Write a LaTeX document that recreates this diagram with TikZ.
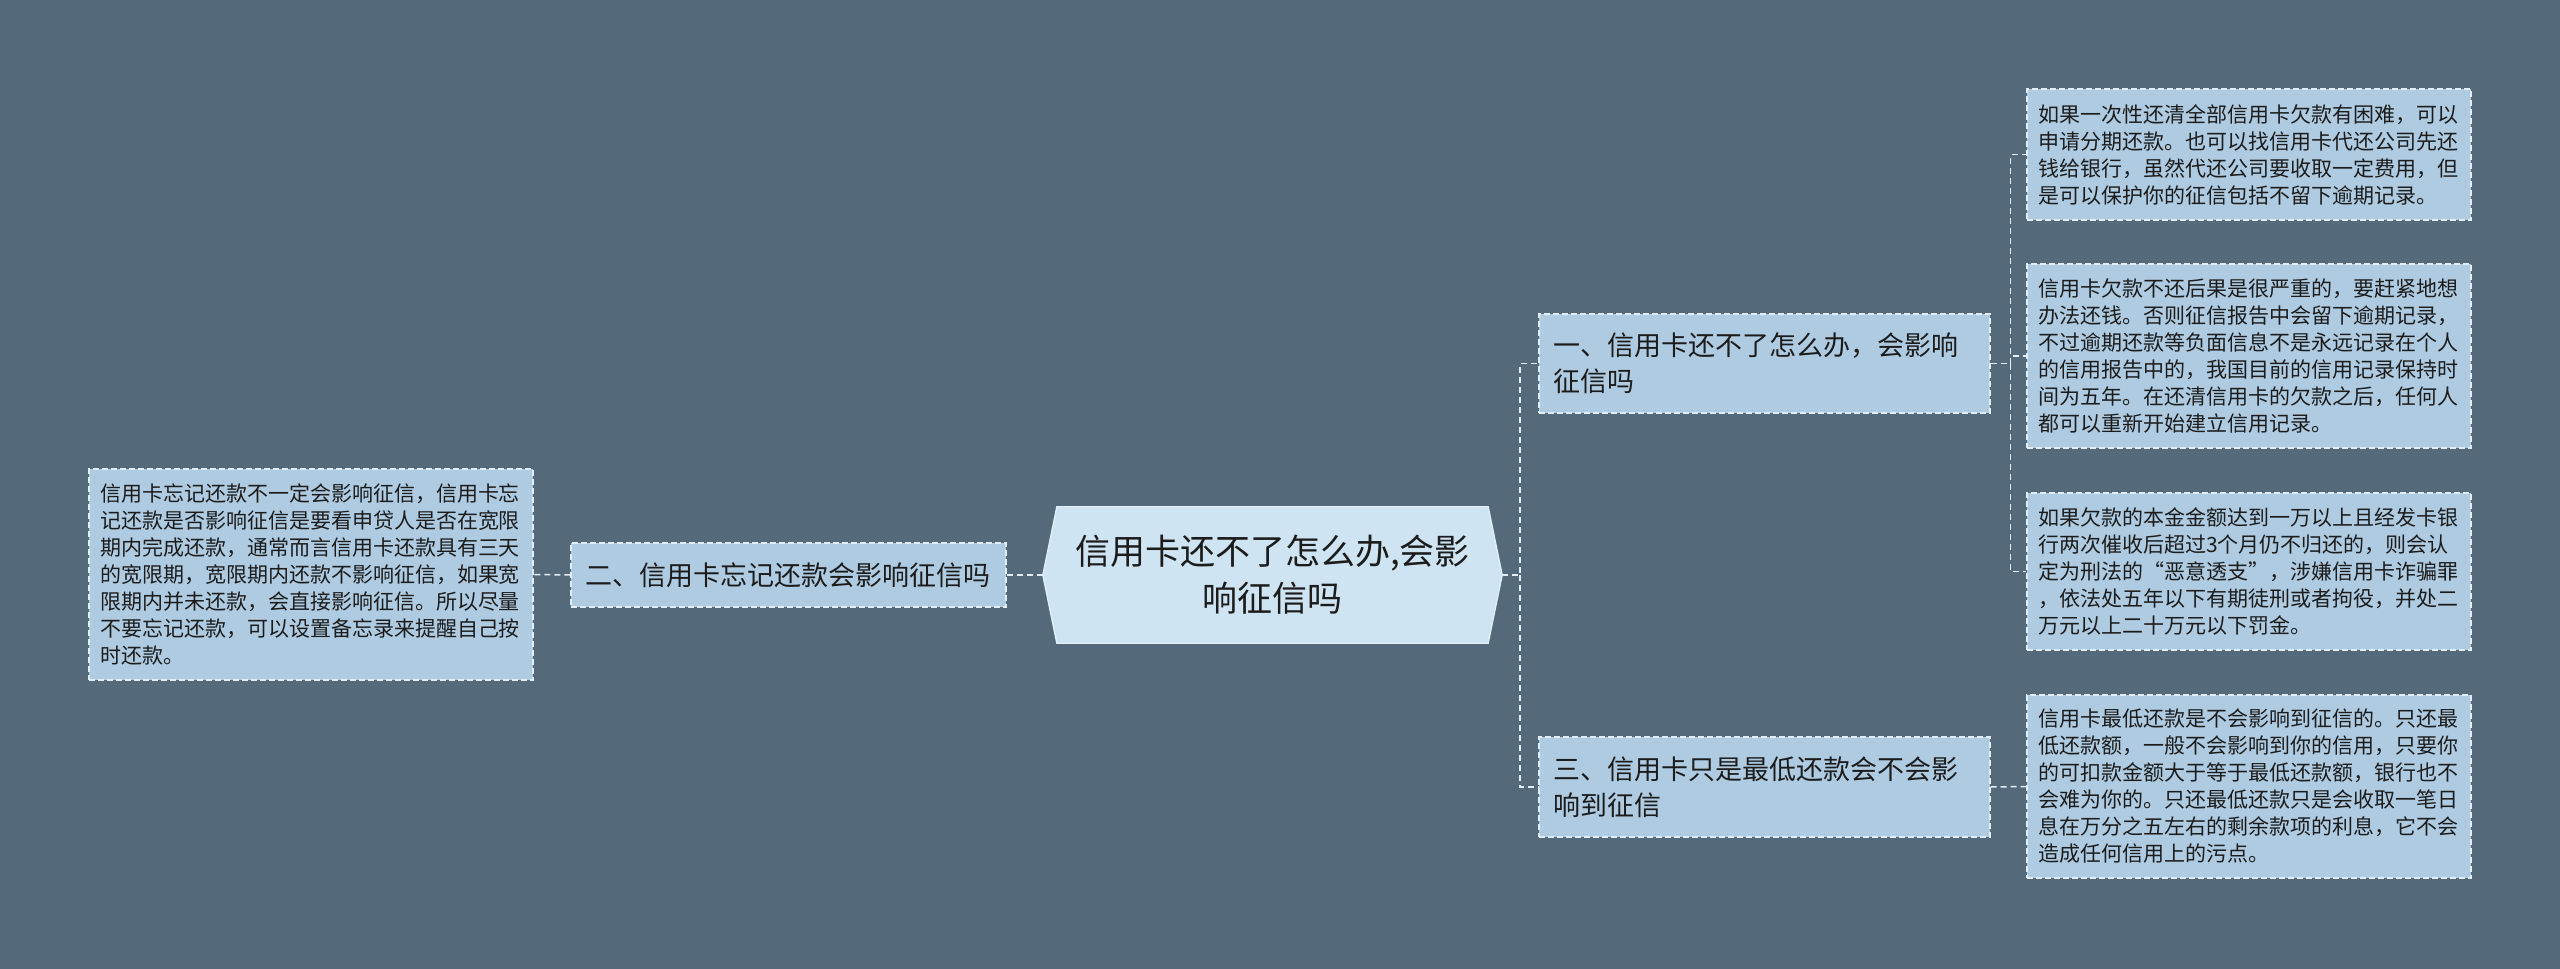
\documentclass[tikz,border=0pt]{standalone}
\usepackage{fontspec}
\setmainfont{Noto Sans CJK SC}
\usetikzlibrary{backgrounds,calc}
\definecolor{bgc}{RGB}{84,106,122}
\definecolor{leaf}{RGB}{174,203,225}
\definecolor{ctr}{RGB}{207,228,242}
\definecolor{edgec}{RGB}{226,238,247}
\definecolor{ink}{RGB}{28,28,28}
\begin{document}
\begin{tikzpicture}[x=1pt,y=-1pt,
  box/.style={draw=edgec, fill=leaf, dash pattern=on 6pt off 3pt, line width=1.3pt, text=ink, align=left, inner xsep=0pt, inner ysep=0pt, anchor=center},
  leafbox/.style={box, minimum width=444pt, text width=422pt, font=\fontsize{21}{27}\selectfont},
  midbox/.style={box, minimum width=451pt, text width=423pt, font=\fontsize{27}{36}\selectfont},
  link/.style={draw=edgec, dash pattern=on 6pt off 4pt, line width=1.5pt}]
\begin{scope}[on background layer]
\fill[bgc] (0,0) rectangle (2560,969);
\end{scope}
\useasboundingbox (0,0) rectangle (2560,969);

% center
\node[font=\fontsize{35}{47}\selectfont, align=center, minimum width=431pt, minimum height=136pt, inner sep=0pt, text=ink] (C) at (1272.5,575) {信用卡还不了怎么办,会影\\响征信吗};
\coordinate (Ce) at ($(C.east)+(14,0)$);
\coordinate (Cw) at ($(C.west)+(-14,0)$);
\begin{scope}[on background layer]
\filldraw[fill=ctr, draw=edgec, line width=1.3pt] (C.north west) -- (C.north east) -- (Ce) -- (C.south east) -- (C.south west) -- (Cw) -- cycle;
\end{scope}

% level 1
\node[midbox, minimum height=99pt] (n1) at (1764.5,363.5) {一、信用卡还不了怎么办，会影响\\征信吗};
\node[midbox, minimum height=100pt] (n3) at (1764.5,787) {三、信用卡只是最低还款会不会影\\响到征信};
\node[box, minimum width=435pt, text width=407pt, minimum height=64pt, font=\fontsize{27}{36}\selectfont] (n2) at (788.5,575) {二、信用卡忘记还款会影响征信吗};

% leaves
\node[leafbox, minimum height=211pt] (L) at (311,574.5) {信用卡忘记还款不一定会影响征信，信用卡忘\\记还款是否影响征信是要看申贷人是否在宽限\\期内完成还款，通常而言信用卡还款具有三天\\的宽限期，宽限期内还款不影响征信，如果宽\\限期内并未还款，会直接影响征信。所以尽量\\不要忘记还款，可以设置备忘录来提醒自己按\\时还款。};
\node[leafbox, minimum height=131pt] (R1) at (2249,154.5) {如果一次性还清全部信用卡欠款有困难，可以\\申请分期还款。也可以找信用卡代还公司先还\\钱给银行，虽然代还公司要收取一定费用，但\\是可以保护你的征信包括不留下逾期记录。};
\node[leafbox, minimum height=184pt] (R2) at (2249,356) {信用卡欠款不还后果是很严重的，要赶紧地想\\办法还钱。否则征信报告中会留下逾期记录，\\不过逾期还款等负面信息不是永远记录在个人\\的信用报告中的，我国目前的信用记录保持时\\间为五年。在还清信用卡的欠款之后，任何人\\都可以重新开始建立信用记录。};
\node[leafbox, minimum height=157pt] (R3) at (2249,571.5) {如果欠款的本金金额达到一万以上且经发卡银\\行两次催收后超过3个月仍不归还的，则会认\\定为刑法的“恶意透支”，涉嫌信用卡诈骗罪\\，依法处五年以下有期徒刑或者拘役，并处二\\万元以上二十万元以下罚金。};
\node[leafbox, minimum height=183pt] (R4) at (2249,786.5) {信用卡最低还款是不会影响到征信的。只还最\\低还款额，一般不会影响到你的信用，只要你\\的可扣款金额大于等于最低还款额，银行也不\\会难为你的。只还最低还款只是会收取一笔日\\息在万分之五左右的剩余款项的利息，它不会\\造成任何信用上的污点。};

% connectors
\coordinate (jR) at ($(Ce)+(18,0)$);
\draw[link] (Ce) -- (jR) |- (n1.west);
\draw[link] (jR) |- (n3.west);
\draw[link] (Cw) -- (n2.east);
\draw[link] (n2.west) -- (L.east);
\coordinate (jA) at ($(n1.east)+(20,0)$);
\draw[link] (n1.east) -- (jA) |- (R1.west);
\draw[link] (jA) |- (R2.west);
\draw[link] (jA) |- (R3.west);
\draw[link] (n3.east) -- (R4.west);
\end{tikzpicture}
\end{document}
